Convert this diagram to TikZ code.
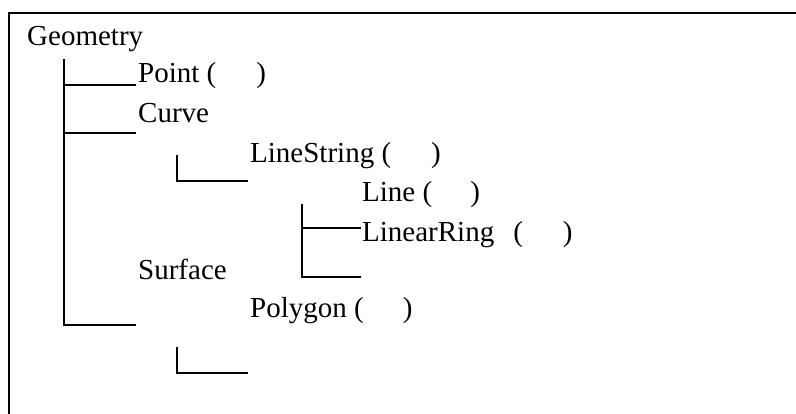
\documentclass[tikz,border=0pt]{standalone}
\usepackage{fontspec}
\setmainfont{Liberation Serif}
\begin{document}
\begin{tikzpicture}[x=1pt,y=-1pt,
  lbl/.style={anchor=base west, inner sep=0pt, font=\fontsize{29}{34}\selectfont},
  tree/.style={line width=1.8pt, line cap=rect},
  frame/.style={line width=2pt}]
\useasboundingbox (0,0) rectangle (796,414);
% frame (top and left edges)
\coordinate (fTL) at (9,13);
\coordinate (fTR) at (796,13);
\coordinate (fBL) at (9,414);
\draw[frame] (fTR) -- (fTL) -- (fBL);
% labels
\node[lbl] (geom) at (27,46) {Geometry};
\node[lbl] (point) at (138,83) {Point (\hspace{40pt})};
\node[lbl] (curve) at (138,123) {Curve};
\node[lbl] (ls) at (250,163) {LineString (\hspace{40pt})};
\node[lbl] (line) at (362,202) {Line (\hspace{38pt})};
\node[lbl] (lr) at (362,242) {LinearRing\hspace{19pt}(\hspace{40pt})};
\node[lbl] (surf) at (138,280) {Surface};
\node[lbl] (poly) at (250,318) {Polygon (\hspace{39pt})};
% tree under Geometry
\coordinate (gTop) at (64,60);
\coordinate (gB1) at (64,85);
\coordinate (gB2) at (64,133);
\coordinate (gB3) at (64,325);
\coordinate (gE1) at (135,85);
\coordinate (gE2) at (135,133);
\coordinate (gE3) at (135,325);
\draw[tree] (gTop) -- (gB3) -- (gE3);
\draw[tree] (gB1) -- (gE1);
\draw[tree] (gB2) -- (gE2);
% under Curve
\coordinate (cTop) at (177,156);
\coordinate (cB) at (177,181);
\coordinate (cE) at (247,181);
\draw[tree] (cTop) -- (cB) -- (cE);
% under LineString
\coordinate (lTop) at (302,205);
\coordinate (lB1) at (302,228);
\coordinate (lB2) at (302,277);
\coordinate (lE1) at (360,228);
\coordinate (lE2) at (360,277);
\draw[tree] (lTop) -- (lB2) -- (lE2);
\draw[tree] (lB1) -- (lE1);
% under Surface
\coordinate (sTop) at (177,348);
\coordinate (sB) at (177,373);
\coordinate (sE) at (247,373);
\draw[tree] (sTop) -- (sB) -- (sE);
\end{tikzpicture}
\end{document}
